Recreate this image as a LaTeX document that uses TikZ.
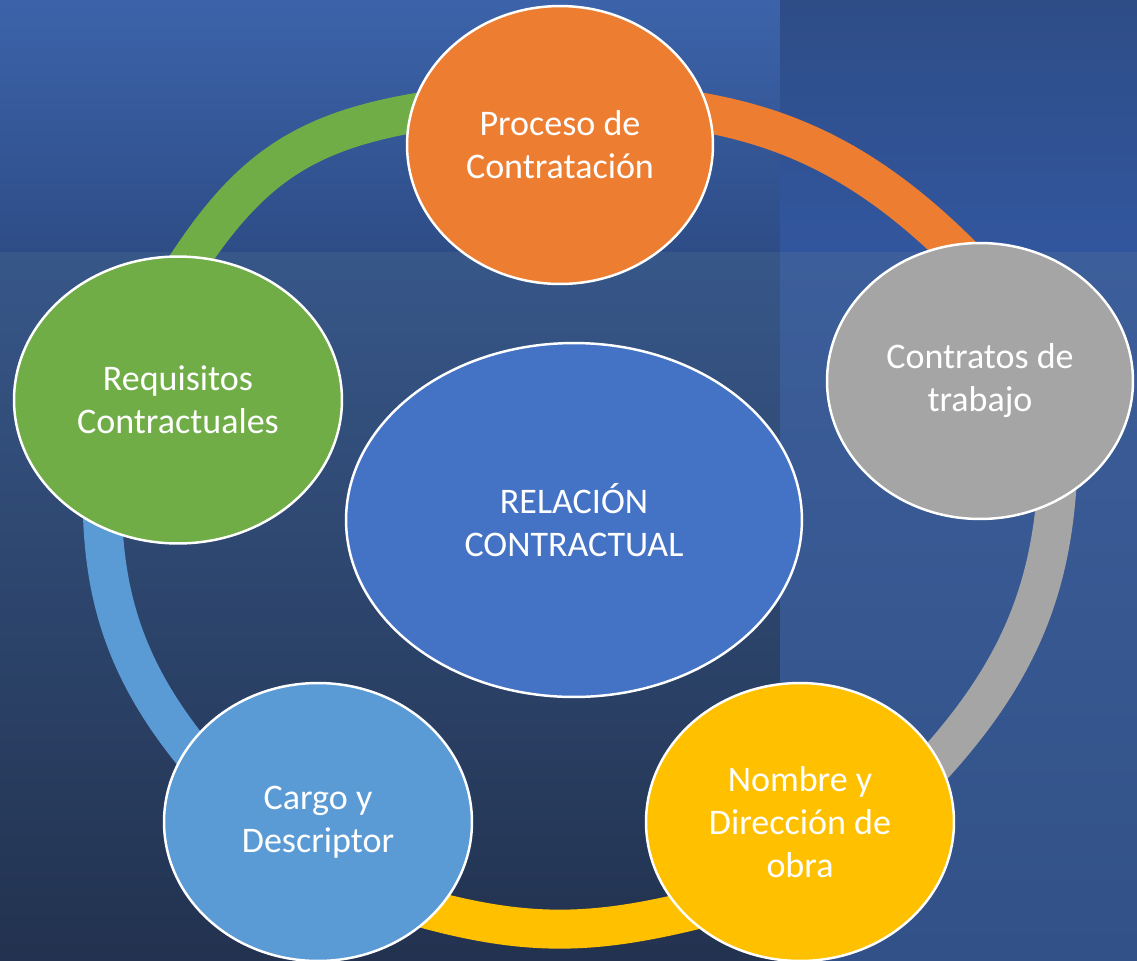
\documentclass[tikz,border=0pt]{standalone}
\usepackage{fontspec}
\setmainfont{Carlito}
\usetikzlibrary{shapes.geometric}
\definecolor{orangeC}{HTML}{ED7D31}
\definecolor{grayC}{HTML}{A5A5A5}
\definecolor{yellowC}{HTML}{FFC000}
\definecolor{blueC}{HTML}{5B9BD5}
\definecolor{greenC}{HTML}{70AD47}
\definecolor{midC}{HTML}{4472C4}
\tikzset{
  bubble/.style={ellipse, draw=white, line width=1.4pt, fill=#1, text=white,
    inner sep=0pt, align=center, font=\fontsize{20.5}{24.4}\selectfont},
  ring/.style={draw=#1, line width=0.78cm},
}

\begin{document}
\begin{tikzpicture}[x=0.02cm, y=-0.02cm]
\useasboundingbox (0,0) rectangle (1137,961);
% background patches
\shade[top color={rgb,255:red,60;green,99;blue,170}, bottom color={rgb,255:red,46;green,77;blue,135}] (0,0) rectangle (780,252);
\shade[top color={rgb,255:red,46;green,77;blue,135}, bottom color={rgb,255:red,50;green,86;blue,158}] (780,0) rectangle (1137,252);
\shade[top color={rgb,255:red,55;green,87;blue,137}, bottom color={rgb,255:red,34;green,50;blue,79}] (0,252) rectangle (780,961);
\shade[top color={rgb,255:red,60;green,94;blue,154}, bottom color={rgb,255:red,50;green,81;blue,136}] (780,252) rectangle (1137,961);

% ends of the ring pieces, hidden under the bubbles
\coordinate (top-a) at (520,100);
\coordinate (top-b) at (640,104);
\coordinate (right-a) at (990,285);
\coordinate (right-b) at (1058,470);
\coordinate (br-a) at (905,795);
\coordinate (br-b) at (715,905);
\coordinate (bl-a) at (405,903);
\coordinate (bl-b) at (240,805);
\coordinate (left-a) at (102,490);
\coordinate (left-b) at (165,300);

% the ring
\draw[ring=orangeC] (top-b) .. controls (765,116) and (865,148) .. (right-a);
\draw[ring=grayC] (right-b) .. controls (1052,591) and (1019,681) .. (br-a);
\draw[ring=yellowC] (br-b) .. controls (598,935) and (530,940) .. (bl-a);
\draw[ring=blueC] (bl-b) .. controls (125,690) and (102,600) .. (left-a);
\draw[ring=greenC] (left-b) .. controls (256,148) and (316,118) .. (top-a);

\node[bubble=midC, minimum width=9.12cm, minimum height=7.08cm] (relacion) at (574,520) {RELACIÓN\\CONTRACTUAL};
\node[bubble=orangeC, minimum width=6.12cm, minimum height=5.56cm] (proceso) at (560,145) {Proceso de\\Contratación};
\node[bubble=grayC, minimum width=6.12cm, minimum height=5.52cm] (contratos) at (980,381) {Contratos de\\trabajo};
\node[bubble=yellowC, minimum width=6.16cm, minimum height=5.56cm] (nombre) at (800,822) {Nombre y\\Dirección de\\obra};
\node[bubble=blueC, minimum width=6.16cm, minimum height=5.56cm] (cargo) at (318,822) {Cargo y\\Descriptor};
\node[bubble=greenC, minimum width=6.56cm, minimum height=5.74cm] (requisitos) at (178,400) {Requisitos\\Contractuales};
\end{tikzpicture}
\end{document}
